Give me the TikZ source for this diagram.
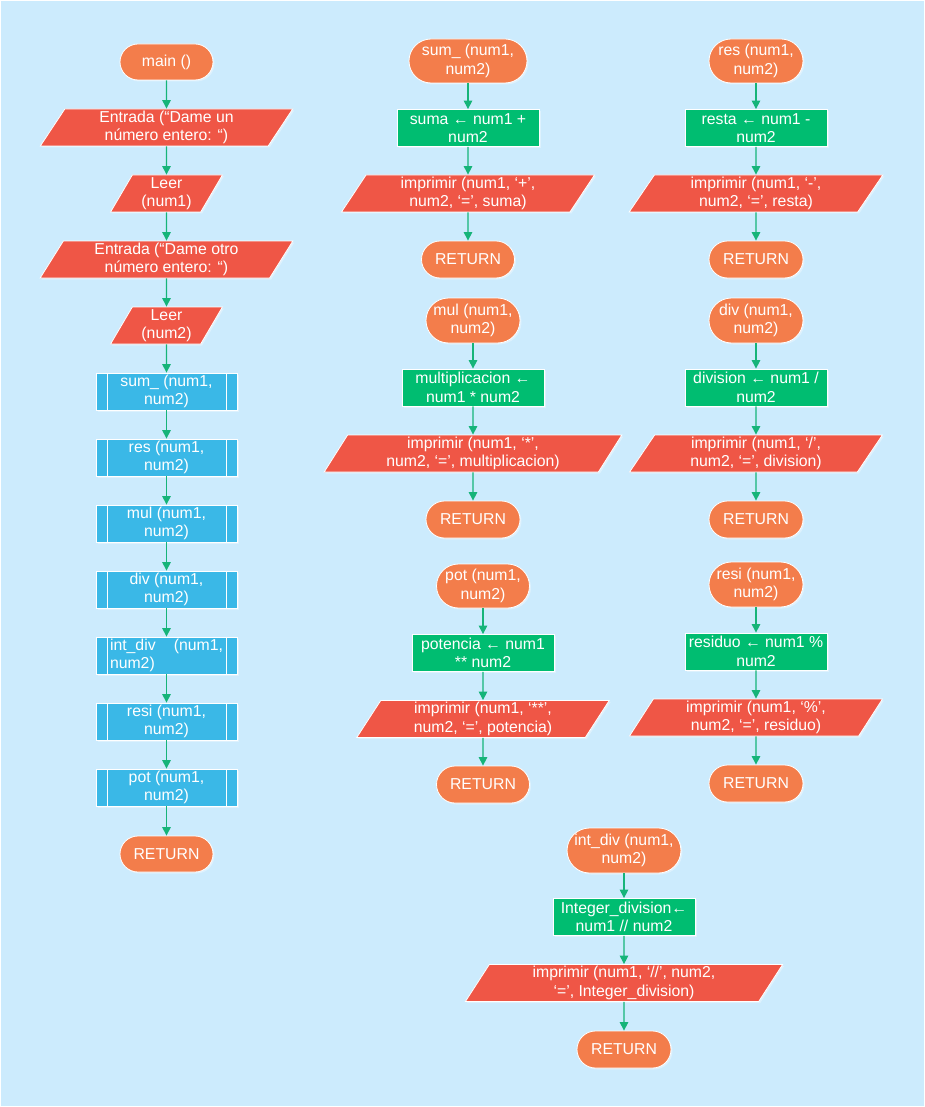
\documentclass[tikz,border=0pt]{standalone}
\usepackage{fontspec}
\setmainfont{Liberation Sans}
\usetikzlibrary{shapes.geometric,shapes.misc,arrows.meta,shadows}

\definecolor{bgblue}{HTML}{CCEBFD}
\definecolor{termorange}{HTML}{F37D4B}
\definecolor{iored}{HTML}{EF5646}
\definecolor{procgreen}{HTML}{00BD71}
\definecolor{subblue}{HTML}{3AB8E7}
\definecolor{linegreen}{HTML}{16B479}

\tikzset{
  blockbase/.style={text=white, font=\fontsize{15.8}{18.5}\selectfont, align=center,
    inner sep=0pt, draw=white, line width=0.8pt,
    drop shadow={shadow xshift=1.5pt, shadow yshift=-1.5pt, fill=white, opacity=0.35}},
  term/.style 2 args={blockbase, rounded rectangle, fill=termorange,
    minimum width=#1, minimum height=#2},
  io/.style={blockbase, trapezium, trapezium left angle=64, trapezium right angle=116,
    trapezium stretches=true, fill=iored, minimum width=#1, minimum height=37},
  proc/.style={blockbase, rectangle, fill=procgreen, minimum width=142, minimum height=37},
  subproc/.style={blockbase, rectangle, fill=subblue, minimum width=141, minimum height=37,
    path picture={
      \draw[white, line width=0.8pt]
        ([xshift=11pt]path picture bounding box.north west) -- ([xshift=11pt]path picture bounding box.south west)
        ([xshift=-11pt]path picture bounding box.north east) -- ([xshift=-11pt]path picture bounding box.south east);}},
  flowarrow/.style={draw=linegreen, line width=1.2pt, -{Triangle[width=8.5pt,length=8.5pt]}}
}

\begin{document}
\begin{tikzpicture}[x=1pt, y=-1pt]
  % canvas
  \useasboundingbox (0,0) rectangle (925,1107);
  \fill[bgblue] (0,0) rectangle (925,1107);
  \draw[white, line width=1pt] (0.5,0.5) rectangle (924.5,1106.5);

  % main program
  \node[term={93}{36}] (main) at (166.5,62) {main ()};
  \node[io=253] (e1) at (166.5,127.5) {Entrada (“Dame un\\número entero: “)};
  \node[io=112] (l1) at (166.5,193.5) {Leer\\(num1)};
  \node[io=253] (e2) at (166.5,259.5) {Entrada (“Dame otro\\número entero: “)};
  \node[io=112] (l2) at (166.5,325.5) {Leer\\(num2)};
  \node[subproc] (csum) at (166.5,391.5) {sum\_ (num1,\\num2)};
  \node[subproc] (cres) at (166.5,457.5) {res (num1,\\num2)};
  \node[subproc] (cmul) at (166.5,523.5) {mul (num1,\\num2)};
  \node[subproc] (cdiv) at (166.5,589.5) {div (num1,\\num2)};
  \node[subproc] (cint) at (166.5,655.5) {\parbox{113pt}{\makebox[113pt][s]{int\_div\hfill(num1,}\\num2)}};
  \node[subproc] (cresi) at (166.5,721.5) {resi (num1,\\num2)};
  \node[subproc] (cpot) at (166.5,787.5) {pot (num1,\\num2)};
  \node[term={93}{36}] (mret) at (166.5,854) {RETURN};

  \foreach \a/\b in {main/e1, e1/l1, l1/e2, e2/l2, l2/csum, csum/cres, cres/cmul,
                     cmul/cdiv, cdiv/cint, cint/cresi, cresi/cpot, cpot/mret}
    \draw[flowarrow] (\a.south) -- (\b.north);

  % sum_
  \node[term={118}{44}] (st) at (468,61) {sum\_ (num1,\\num2)};
  \node[proc] (sp) at (468,128) {suma ← num1 +\\num2};
  \node[io=253] (so) at (468,193.5) {imprimir (num1, ‘+’,\\num2, ‘=’, suma)};
  \node[term={93}{37}] (sr) at (468,259.5) {RETURN};

  % res
  \node[term={94}{44}] (rt) at (756,61) {res (num1,\\num2)};
  \node[proc] (rp) at (756,128) {resta ← num1 -\\num2};
  \node[io=254] (ro) at (756,193.5) {imprimir (num1, ‘-’,\\num2, ‘=’, resta)};
  \node[term={94}{37}] (rr) at (756,259.5) {RETURN};

  % mul
  \node[term={94}{45}] (mt) at (473,320.5) {mul (num1,\\num2)};
  \node[proc] (mp) at (473,387.5) {multiplicacion ←\\num1 * num2};
  \node[io=298] (mo) at (473,453.5) {imprimir (num1, ‘*’,\\num2, ‘=’, multiplicacion)};
  \node[term={94}{37}] (mr) at (473,519.5) {RETURN};

  % div
  \node[term={94}{45}] (dt) at (756,320.5) {div (num1,\\num2)};
  \node[proc] (dp) at (756,387.5) {division ← num1 /\\num2};
  \node[io=253] (do) at (756,453.5) {imprimir (num1, ‘/’,\\num2, ‘=’, division)};
  \node[term={94}{37}] (dr) at (756,519.5) {RETURN};

  % pot
  \node[term={93}{44}] (pt) at (483,586) {pot (num1,\\num2)};
  \node[proc] (pp) at (483,653) {potencia ← num1\\** num2};
  \node[io=253] (po) at (483,719) {imprimir (num1, ‘**’,\\num2, ‘=’, potencia)};
  \node[term={93}{37}] (pr) at (483,784.5) {RETURN};

  % resi
  \node[term={94}{45}] (qt) at (756,584.5) {resi (num1,\\num2)};
  \node[proc] (qp) at (756,651.5) {residuo ← num1 \%\\num2};
  \node[io=253] (qo) at (756,717.5) {imprimir (num1, ‘\%’,\\num2, ‘=’, residuo)};
  \node[term={94}{37}] (qr) at (756,783.5) {RETURN};

  % int_div
  \node[term={110}{45}] (it) at (624,850.5) {int\_div (num1,\\num2)};
  \node[proc] (ip) at (624,917) {Integer\_division←\\num1 // num2};
  \node[io=318] (io) at (624,983) {imprimir (num1, ‘//’, num2,\\‘=’, Integer\_division)};
  \node[term={94}{37}] (ir) at (624,1049.5) {RETURN};

  \foreach \f in {s,r,m,d,p,q,i}{
    \draw[flowarrow] (\f t.south) -- (\f p.north);
    \draw[flowarrow] (\f p.south) -- (\f o.north);
    \draw[flowarrow] (\f o.south) -- (\f r.north);
  }
\end{tikzpicture}
\end{document}
